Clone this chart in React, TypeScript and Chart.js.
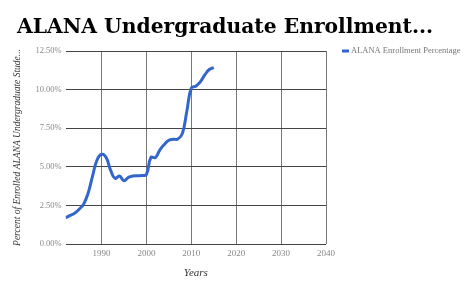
import React, { useEffect, useRef } from "react";
import { Chart, registerables } from "chart.js";

Chart.register(...registerables);

const years = [
  1982, 1983, 1984, 1985, 1986, 1987, 1988, 1989, 1990, 1991, 1992, 1993, 1994, 1995, 1996, 1997,
  1998, 1999, 2000, 2001, 2002, 2003, 2004, 2005, 2006, 2007, 2008, 2009, 2010, 2011, 2012, 2013,
  2014, 2015,
];
const alanaPct = [
  1.7, 1.85, 1.99, 2.25, 2.58, 3.28, 4.4, 5.44, 5.81, 5.62, 4.8, 4.25, 4.4, 4.1, 4.32, 4.4,
  4.42, 4.43, 4.5, 5.6, 5.6, 6.1, 6.45, 6.72, 6.78, 6.8, 7.15, 8.6, 10.1, 10.22, 10.5, 10.95,
  11.3, 11.42,
];
const xTicks = [1990, 2000, 2010, 2020, 2030, 2040];
const seriesLabel = "ALANA Enrollment Percentage";
const titleText = "ALANA Undergraduate Enrollment...";
const yTitle = "Percent of Enrolled ALANA Undergraduate Stude...";
const xTitle = "Years";
const lineColor = "#3366CC";

const titleLegendPlugin = {
  id: "titleLegend",
  afterDraw(chart: any) {
    const ctx = chart.ctx;
    const area = chart.chartArea;
    ctx.save();
    ctx.fillStyle = "#000";
    ctx.font = "bold 20.3px 'DejaVu Serif'";
    ctx.textBaseline = "alphabetic";
    ctx.textAlign = "left";
    ctx.fillText(titleText, 17, 33);
    // legend
    const lx = area.right + 16;
    const ly = area.top;
    ctx.strokeStyle = lineColor;
    ctx.lineWidth = 3;
    ctx.beginPath();
    ctx.moveTo(lx, ly);
    ctx.lineTo(lx + 7, ly);
    ctx.stroke();
    ctx.fillStyle = "#777";
    ctx.font = "8.5px 'Liberation Serif'";
    ctx.textBaseline = "middle";
    ctx.fillText(seriesLabel, lx + 9, ly);
    ctx.restore();
  },
};

export default function App() {
  const ref = useRef<HTMLCanvasElement | null>(null);
  useEffect(() => {
    if (!ref.current) return;
    const chart = new Chart(ref.current, {
      type: "line",
      data: {
        datasets: [
          {
            label: seriesLabel,
            data: years.map((y, i) => ({ x: y, y: alanaPct[i] })),
            borderColor: lineColor,
            backgroundColor: lineColor,
            borderWidth: 3,
            pointRadius: 0,
            tension: 0.45,
            fill: false,
          },
        ],
      },
      options: {
        animation: false,
        responsive: false,
        layout: { padding: { left: 8, right: 149, top: 51, bottom: 9 } },
        plugins: {
          title: { display: false },
          legend: { display: false },
          tooltip: { enabled: false },
        },
        scales: {
          x: {
            type: "linear",
            min: 1982,
            max: 2040,
            afterBuildTicks: (scale: any) => {
              scale.ticks = xTicks.map((v) => ({ value: v }));
            },
            ticks: {
              color: "#888",
              font: { family: "Liberation Serif", size: 9 },
              callback: (v: any) => String(v),
              maxRotation: 0,
              padding: 4,
            },
            grid: { color: "#777", drawTicks: false, lineWidth: 1 },
            border: { display: false },
            title: {
              display: true,
              text: xTitle,
              color: "#333",
              font: { family: "Liberation Serif", size: 11, style: "italic" },
              padding: { top: 4 },
            },
          },
          y: {
            min: 0,
            max: 12.5,
            ticks: {
              stepSize: 2.5,
              color: "#888",
              font: { family: "Liberation Serif", size: 8.5 },
              callback: (v: any) => Number(v).toFixed(2) + "%",
              padding: 4,
            },
            grid: { color: "#444", drawTicks: false, lineWidth: 1 },
            border: { display: false },
            title: {
              display: true,
              text: yTitle,
              color: "#333",
              font: { family: "Liberation Serif", size: 9.5, style: "italic" },
              padding: { bottom: 8 },
            },
          },
        },
      },
      plugins: [titleLegendPlugin],
    });
    return () => chart.destroy();
  }, []);
  return (
    <div style={{ position: "fixed", left: 0, top: 0, width: 475, height: 293, background: "#fff" }}>
      <canvas ref={ref} width={475} height={293} style={{ width: 475, height: 293 }} />
    </div>
  );
}
